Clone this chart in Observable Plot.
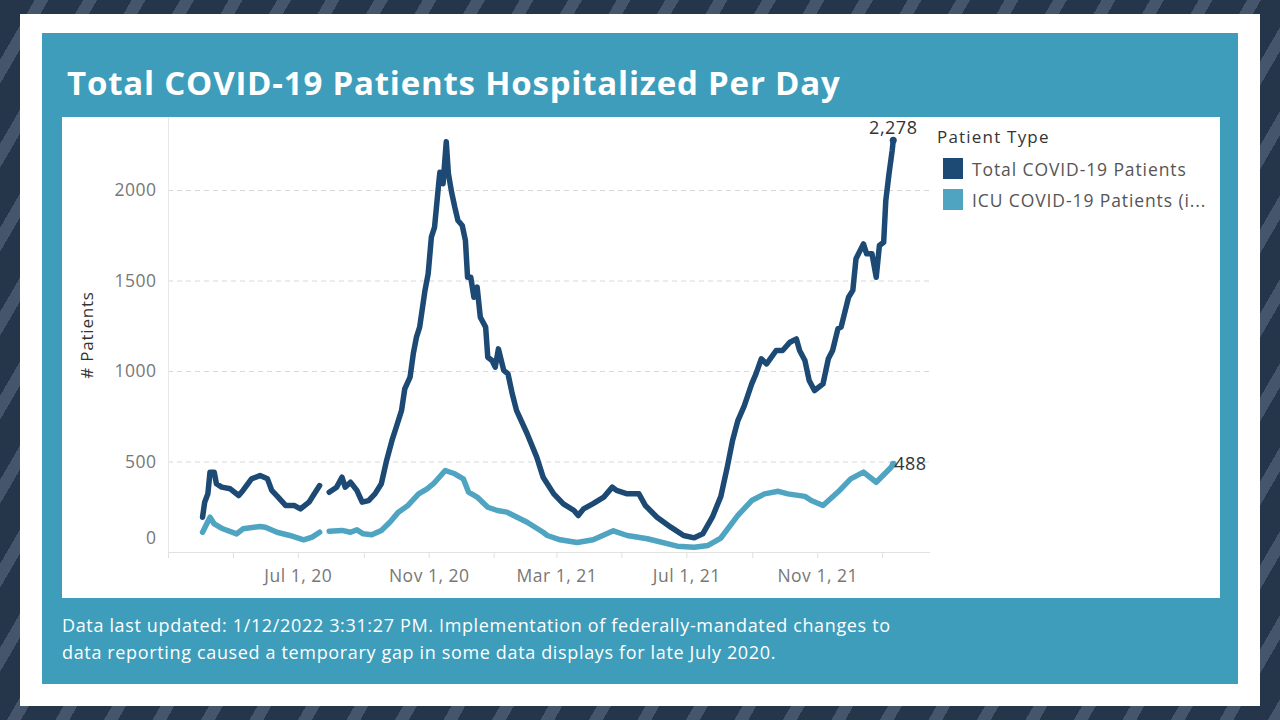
<!DOCTYPE html>
<html>
<head>
<meta charset="utf-8">
<script src="https://cdn.jsdelivr.net/npm/d3@7"></script>
<script src="https://cdn.jsdelivr.net/npm/@observablehq/plot@0.6"></script>
<style>
  html, body { margin: 0; padding: 0; }
  body {
    width: 1280px; height: 720px; overflow: hidden; position: relative;
    background: repeating-linear-gradient(120deg, #26364a 0px, #26364a 30px, #45556b 30px, #45556b 42px);
    font-family: "Open Sans", sans-serif;
  }
  #frame { position: absolute; left: 20px; top: 14px; width: 1240px; height: 692px; background: #fff; }
  #panel { position: absolute; left: 42px; top: 33px; width: 1196px; height: 651px; background: #3d9dba; }
  #title { position: absolute; left: 67px; top: 60px; color: #fff; font-weight: 700; font-size: 33px; font-family: "Open Sans", sans-serif; white-space: nowrap; letter-spacing: 0.8px; }
  #chart { position: absolute; left: 62px; top: 117px; width: 1158px; height: 481px; background: #fff; }
  #chart svg { position: absolute; left: 0; top: 0; }
  #caption { position: absolute; left: 62px; top: 612px; color: #fff; font-size: 18px; line-height: 27px; font-family: "Open Sans", sans-serif; white-space: nowrap; letter-spacing: 0.65px; }
  #legend { position: absolute; left: 937px; top: 125px; font-family: "Open Sans", sans-serif; }
  #legend .lt { font-size: 17px; color: #333; margin-bottom: 5px; letter-spacing: 1.2px; }
  #legend .item { display: flex; align-items: center; height: 31px; margin-left: 6px; font-size: 17.5px; color: #555; letter-spacing: 0.9px; }
  #legend .sw { width: 20px; height: 21px; margin-right: 9px; }
</style>
</head>
<body>
<div id="frame"></div>
<div id="panel"></div>
<div id="title"></div>
<div id="chart"></div>
<div id="legend"></div>
<div id="caption"></div>
<script>
const titleText = "Total COVID-19 Patients Hospitalized Per Day";
const captionLines = [
  "Data last updated: 1/12/2022 3:31:27 PM. Implementation of federally-mandated changes to",
  "data reporting caused a temporary gap in some data displays for late July 2020."
];
const yAxisTitle = "# Patients";
const legendTitle = "Patient Type";
const seriesNames = ["Total COVID-19 Patients", "ICU COVID-19 Patients (i..."];
const seriesColors = ["#1c4a74", "#4fa4c1"];
const yTicks = [0, 500, 1000, 1500, 2000];
const xLabelTicks = ["2020-07-01", "2020-11-01", "2021-03-01", "2021-07-01", "2021-11-01"];

const totalDates = ["2020-04-02","2020-04-04","2020-04-07","2020-04-09","2020-04-13","2020-04-15","2020-04-20","2020-04-28","2020-05-06","2020-05-10","2020-05-18","2020-05-26","2020-06-02","2020-06-06","2020-06-12","2020-06-19","2020-06-27","2020-07-03","2020-07-11","2020-07-15","2020-07-21","2020-07-25","2020-07-30","2020-08-06","2020-08-11","2020-08-14","2020-08-19","2020-08-25","2020-08-30","2020-09-05","2020-09-11","2020-09-17","2020-09-22","2020-09-27","2020-09-30","2020-10-06","2020-10-09","2020-10-14","2020-10-17","2020-10-20","2020-10-23","2020-10-28","2020-10-31","2020-11-03","2020-11-06","2020-11-10","2020-11-11","2020-11-14","2020-11-17","2020-11-19","2020-11-22","2020-11-25","2020-11-28","2020-12-02","2020-12-05","2020-12-07","2020-12-10","2020-12-13","2020-12-16","2020-12-19","2020-12-24","2020-12-26","2020-12-30","2021-01-02","2021-01-05","2021-01-10","2021-01-14","2021-01-18","2021-01-22","2021-02-01","2021-02-10","2021-02-16","2021-02-26","2021-03-07","2021-03-17","2021-03-21","2021-03-26","2021-04-04","2021-04-14","2021-04-22","2021-04-26","2021-05-06","2021-05-17","2021-05-23","2021-06-03","2021-06-16","2021-06-28","2021-07-08","2021-07-16","2021-07-25","2021-08-02","2021-08-08","2021-08-13","2021-08-18","2021-08-24","2021-08-31","2021-09-04","2021-09-09","2021-09-14","2021-09-23","2021-09-29","2021-10-06","2021-10-12","2021-10-15","2021-10-20","2021-10-24","2021-10-29","2021-11-06","2021-11-11","2021-11-15","2021-11-20","2021-11-23","2021-11-30","2021-12-04","2021-12-07","2021-12-14","2021-12-17","2021-12-22","2021-12-26","2021-12-29","2022-01-02","2022-01-04","2022-01-07","2022-01-10","2022-01-11"];
const totalValues = [195,278,324,444,444,380,361,352,315,343,407,425,407,343,306,260,260,241,278,315,370,null,333,361,416,361,388,343,278,287,324,380,510,619,674,785,904,969,1098,1190,1245,1448,1540,1742,1798,2046,2101,2037,2270,2092,1991,1908,1834,1807,1724,1521,1521,1410,1466,1300,1245,1079,1061,1024,1125,1006,987,877,785,656,527,416,324,269,232,204,241,270,306,361,343,324,324,260,195,140,94,81,103,195,310,471,619,729,810,932,987,1070,1042,1116,1116,1162,1180,1116,1061,950,895,932,1070,1116,1236,1245,1410,1448,1623,1705,1650,1650,1521,1696,1714,1945,2092,2221,2278];

const icuDates = ["2020-04-02","2020-04-09","2020-04-13","2020-04-21","2020-05-04","2020-05-10","2020-05-26","2020-05-31","2020-06-11","2020-06-23","2020-07-06","2020-07-14","2020-07-21","2020-07-25","2020-07-30","2020-08-11","2020-08-19","2020-08-25","2020-08-31","2020-09-08","2020-09-17","2020-09-25","2020-10-03","2020-10-12","2020-10-22","2020-10-30","2020-11-05","2020-11-16","2020-11-25","2020-12-03","2020-12-08","2020-12-16","2020-12-26","2021-01-04","2021-01-13","2021-01-16","2021-02-01","2021-02-16","2021-02-20","2021-03-04","2021-03-20","2021-04-04","2021-04-23","2021-05-06","2021-05-25","2021-06-22","2021-07-08","2021-07-21","2021-08-02","2021-08-18","2021-08-31","2021-09-12","2021-09-25","2021-10-04","2021-10-20","2021-10-26","2021-11-06","2021-11-20","2021-12-02","2021-12-14","2021-12-26","2022-01-06","2022-01-09","2022-01-11"];
const icuValues = [112,195,158,131,103,131,144,140,112,94,70,85,112,null,118,122,112,125,103,98,122,167,223,260,324,352,380,453,435,407,333,306,250,232,223,214,167,112,94,70,55,70,120,94,76,35,29,39,80,205,287,324,338,324,310,287,260,334,407,444,388,453,471,488];

// --- build ---
document.getElementById("title").textContent = titleText;
document.getElementById("caption").innerHTML = captionLines.map(s => `<div>${s}</div>`).join("");
document.getElementById("legend").innerHTML =
  `<div class="lt">${legendTitle}</div>` +
  seriesNames.map((n, i) => `<div class="item"><div class="sw" style="background:${seriesColors[i]}"></div>${n}</div>`).join("");

const parse = d3.utcParse("%Y-%m-%d");
const toRows = (dates, vals, s) => dates.map((d, i) => ({date: parse(d), value: vals[i] == null ? NaN : vals[i], series: s}));
const total = toRows(totalDates, totalValues, seriesNames[0]);
const icu = toRows(icuDates, icuValues, seriesNames[1]);
const lastTotal = total[total.length - 1];
const lastIcu = icu[icu.length - 1];

const xStart = parse("2020-03-01"), xEnd = parse("2022-02-15");
const fmtDate = d3.utcFormat("%b %-d, %y");

const plot = Plot.plot({
  width: 1158, height: 481,
  marginLeft: 106, marginRight: 290, marginTop: 0, marginBottom: 46,
  style: {fontFamily: "'Open Sans', sans-serif", fontSize: "16px", background: "transparent", overflow: "visible", letterSpacing: "0.5px"},
  x: {type: "utc", domain: [xStart, xEnd], range: [106, 868]},
  y: {domain: [0, 2000], range: [435, 73]},
  marks: [
    Plot.gridY(yTicks.filter(d => d > 0), {stroke: "#d8d8d8", strokeOpacity: 1, strokeDasharray: "5,4"}),
    Plot.ruleY([0], {stroke: "#e2e2e2"}),
    Plot.ruleX([xStart], {stroke: "#e8e8e8"}),
    Plot.axisX({ticks: d3.utcMonth.every(2), tickSize: 6, tickFormat: () => "", stroke: "#e0e0e0"}),
    Plot.axisX({ticks: xLabelTicks.map(parse), tickSize: 0, tickPadding: 17, tickFormat: fmtDate, fill: "#777", fontSize: 17.5, style: {letterSpacing: "1.1px"}}),
    Plot.axisY({ticks: yTicks.filter(d => d > 0), tickSize: 0, tickPadding: 12, tickFormat: d => String(d), fill: "#777", fontSize: 17.5, label: null}),
    Plot.axisY({ticks: [0], tickSize: 0, tickPadding: 12, dy: -14, tickFormat: d => String(d), fill: "#777", fontSize: 17.5, label: null}),
    Plot.line(icu, {x: "date", y: "value", stroke: seriesColors[1], strokeWidth: 5.5, strokeLinejoin: "round", strokeLinecap: "round"}),
    Plot.line(total, {x: "date", y: "value", stroke: seriesColors[0], strokeWidth: 5.5, strokeLinejoin: "round", strokeLinecap: "round"}),
    Plot.dot([lastTotal], {x: "date", y: "value", r: 3.5, fill: seriesColors[0]}),
    Plot.dot([lastIcu], {x: "date", y: "value", r: 3.5, fill: seriesColors[1]}),
    Plot.text([lastTotal], {x: "date", y: "value", text: d => d3.format(",")(d.value), dy: -6, lineAnchor: "bottom", fill: "#333", fontSize: 18}),
    Plot.text([lastIcu], {x: "date", y: "value", text: d => d3.format(",")(d.value), dx: 1, textAnchor: "start", fill: "#333", fontSize: 18})
  ]
});
document.getElementById("chart").appendChild(plot);

// y axis title
d3.select(plot).append("text")
  .attr("transform", "translate(26,218) rotate(-90)")
  .attr("text-anchor", "middle")
  .attr("dominant-baseline", "middle")
  .attr("fill", "#333")
  .style("font-size", "17px")
  .style("letter-spacing", "0.8px")
  .style("font-family", "'Open Sans', sans-serif")
  .text(yAxisTitle);
</script>
</body>
</html>
